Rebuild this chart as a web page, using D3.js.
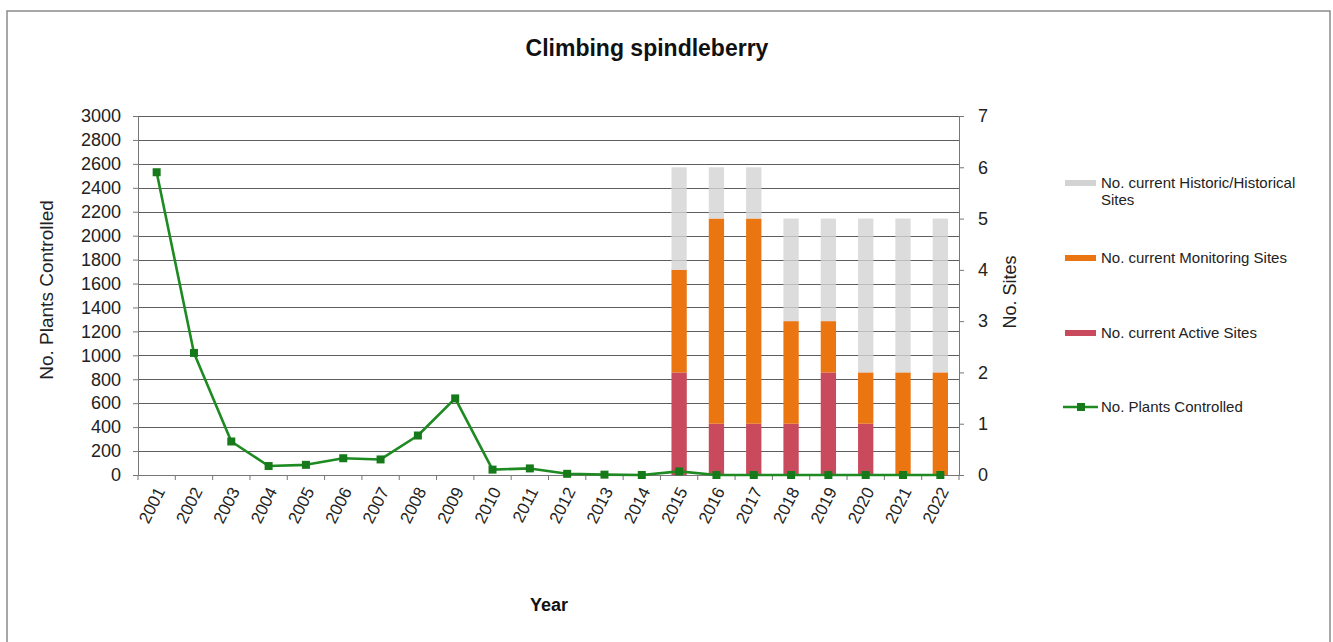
<!DOCTYPE html>
<html>
<head>
<meta charset="utf-8">
<script src="https://cdn.jsdelivr.net/npm/d3@7/dist/d3.min.js"></script>
<style>
  html, body { margin: 0; padding: 0; background: #fff; }
  svg { display: block; font-family: "Liberation Sans", Arial, sans-serif; }
</style>
</head>
<body>
<svg id="chart" width="1333" height="642"></svg>
<script>
const years = ["2001","2002","2003","2004","2005","2006","2007","2008","2009","2010","2011","2012","2013","2014","2015","2016","2017","2018","2019","2020","2021","2022"];
const plantsControlled = [2530, 1020, 280, 75, 85, 140, 130, 330, 640, 45, 55, 10, 3, 0, 30, 0, 0, 0, 0, 0, 0, 0];
const activeSites =     [null,null,null,null,null,null,null,null,null,null,null,null,null,null, 2, 1, 1, 1, 2, 1, 0, 0];
const monitoringSites = [null,null,null,null,null,null,null,null,null,null,null,null,null,null, 2, 4, 4, 2, 1, 1, 2, 2];
const historicSites =   [null,null,null,null,null,null,null,null,null,null,null,null,null,null, 2, 1, 1, 2, 2, 3, 3, 3];
const leftTicks = d3.range(0, 3001, 200);
const rightTicks = [0,1,2,3,4,5,6,7];
const seriesNames = ["No. current Historic/Historical Sites", "No. current Monitoring Sites", "No. current Active Sites", "No. Plants Controlled"];

const colors = { historic: "#d3d3d3", monitoring: "#ea7511", active: "#c94a5c", line: "#1e8a22", marker: "#167a1a", grid: "#5e5e5e" };

const svg = d3.select("#chart");
const plot = { left: 138, right: 959, top: 116, bottom: 475 };

// outer border
svg.append("rect").attr("x", 7).attr("y", 11).attr("width", 1323).attr("height", 640)
  .attr("fill", "none").attr("stroke", "#8a8a8a").attr("stroke-width", 1.5);

const x = d3.scaleBand().domain(years).range([plot.left, plot.right]).paddingInner(0).paddingOuter(0);
const yL = d3.scaleLinear().domain([0, 3000]).range([plot.bottom, plot.top]);
const yR = d3.scaleLinear().domain([0, 7]).range([plot.bottom, plot.top]);

// gridlines
svg.append("g").selectAll("line").data(leftTicks.filter(d => d > 0)).join("line")
  .attr("x1", plot.left).attr("x2", plot.right)
  .attr("y1", d => Math.round(yL(d)) + 0.5).attr("y2", d => Math.round(yL(d)) + 0.5)
  .attr("stroke", colors.grid).attr("stroke-width", 1);

// stacked bars
const rows = years.map((y, i) => ({ year: y, active: activeSites[i] || 0, monitoring: monitoringSites[i] || 0, historic: historicSites[i] || 0 }));
const stack = d3.stack().keys(["active", "monitoring", "historic"])(rows);
const barW = x.bandwidth() * 0.41;
const barG = svg.append("g");
stack.forEach(layer => {
  barG.append("g").selectAll("rect").data(layer.filter(d => d[1] - d[0] > 0)).join("rect")
    .attr("x", d => x(d.data.year) + x.bandwidth() / 2 - barW / 2)
    .attr("width", barW)
    .attr("y", d => yR(d[1]))
    .attr("height", d => yR(d[0]) - yR(d[1]))
    .attr("fill", colors[layer.key])
    .attr("opacity", layer.key === "historic" ? 0.8 : 1);
});

// axes
const axL = d3.axisLeft(yL).tickValues(leftTicks).tickFormat(d3.format("d")).tickSize(5).tickPadding(12);
const gL = svg.append("g").attr("transform", `translate(${plot.left},0)`).call(axL);
const axR = d3.axisRight(yR).tickValues(rightTicks).tickFormat(d3.format("d")).tickSize(5).tickPadding(14);
const gR = svg.append("g").attr("transform", `translate(${plot.right},0)`).call(axR);
[gL, gR].forEach(g => {
  g.select(".domain").attr("stroke", "#777");
  g.selectAll(".tick line").attr("stroke", "#777");
  g.selectAll("text").attr("font-size", 18).attr("fill", "#222").attr("font-family", "Liberation Sans, Arial, sans-serif");
});

const axB = d3.axisBottom(x).tickSize(0).tickFormat(d => d);
const gB = svg.append("g").attr("transform", `translate(0,${plot.bottom})`).call(axB);
gB.select(".domain").attr("stroke", "#777");
gB.selectAll(".tick text")
  .attr("font-size", 17).attr("fill", "#222").attr("font-family", "Liberation Sans, Arial, sans-serif")
  .attr("text-anchor", "end").attr("dy", "0.35em")
  .attr("transform", "translate(1,12) rotate(-63)");
// tick marks between categories
gB.append("g").selectAll("line").data(years.concat(["end"])).join("line")
  .attr("x1", (d, i) => plot.left + i * x.bandwidth()).attr("x2", (d, i) => plot.left + i * x.bandwidth())
  .attr("y1", 0).attr("y2", 5).attr("stroke", "#777");

// line series
const line = d3.line().x((d, i) => x(years[i]) + x.bandwidth() / 2).y(d => yL(d));
svg.append("path").datum(plantsControlled).attr("d", line)
  .attr("fill", "none").attr("stroke", colors.line).attr("stroke-width", 2.6).attr("stroke-linejoin", "round");
svg.append("g").selectAll("rect").data(plantsControlled).join("rect")
  .attr("x", (d, i) => x(years[i]) + x.bandwidth() / 2 - 4)
  .attr("y", d => yL(d) - 4)
  .attr("width", 8).attr("height", 8)
  .attr("fill", colors.marker);

// titles
svg.append("text").attr("x", 647).attr("y", 56).attr("text-anchor", "middle")
  .attr("font-size", 23).attr("font-weight", "bold").attr("fill", "#111").text("Climbing spindleberry");
svg.append("text").attr("transform", `translate(53,290) rotate(-90)`)
  .attr("text-anchor", "middle").attr("font-size", 19).attr("fill", "#222").text("No. Plants Controlled");
svg.append("text").attr("transform", `translate(1016,292) rotate(-90)`)
  .attr("text-anchor", "middle").attr("font-size", 18).attr("fill", "#222").text("No. Sites");
svg.append("text").attr("x", 549).attr("y", 611).attr("text-anchor", "middle")
  .attr("font-size", 18).attr("font-weight", "bold").attr("fill", "#111").text("Year");

// legend
const leg = svg.append("g").attr("font-size", 15).attr("fill", "#222");
const legY = [183, 258, 333, 407];
const legColors = [colors.historic, colors.monitoring, colors.active, colors.line];
seriesNames.forEach((name, i) => {
  const y0 = legY[i];
  if (i < 3) {
    leg.append("rect").attr("x", 1065).attr("y", y0 - 3).attr("width", 31).attr("height", 6).attr("fill", legColors[i]);
  } else {
    leg.append("line").attr("x1", 1063).attr("x2", 1098).attr("y1", y0).attr("y2", y0)
      .attr("stroke", colors.line).attr("stroke-width", 2.6);
    leg.append("rect").attr("x", 1077).attr("y", y0 - 4).attr("width", 8).attr("height", 8).attr("fill", colors.marker);
  }
  const t = leg.append("text").attr("x", 1101).attr("y", y0 + 5);
  if (i === 0) {
    t.append("tspan").attr("x", 1101).text("No. current Historic/Historical");
    t.append("tspan").attr("x", 1101).attr("dy", 17).text("Sites");
  } else {
    t.text(name);
  }
});
</script>
</body>
</html>
